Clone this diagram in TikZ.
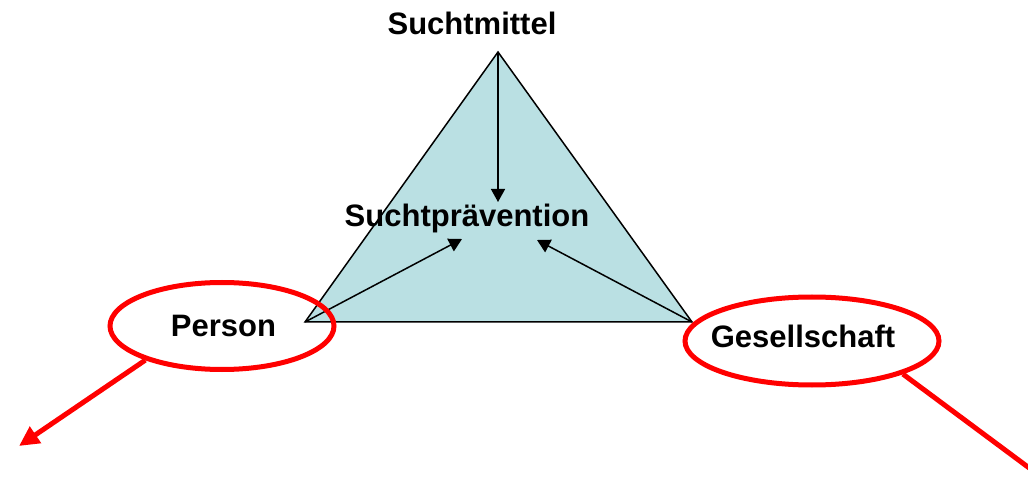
\documentclass[tikz,border=0pt]{standalone}
\usepackage{fontspec}
\setmainfont{Liberation Sans}
\usetikzlibrary{arrows.meta,shapes.geometric}
\definecolor{tealfill}{RGB}{186,224,227}
\tikzset{
  term/.style={font=\bfseries\fontsize{31}{36}\selectfont, inner sep=0pt, anchor=base},
  ring/.style={ellipse, draw=red, line width=5pt, inner sep=0pt},
  link/.style={-{Triangle[length=13pt, width=14pt]}, line width=1.5pt},
  pointer/.style={-{Triangle[length=20pt, width=19pt]}, draw=red, line width=5pt}
}

\begin{document}
\begin{tikzpicture}[x=1pt, y=-1pt]
\clip (0,0) rectangle (1028,478);
\fill[white] (0,0) rectangle (1028,478);

% corners of the triangle
\coordinate (top)   at (498,52);
\coordinate (left)  at (305,322);
\coordinate (right) at (692,322);
\draw[fill=tealfill, line width=1.5pt] (top) -- (left) -- (right) -- cycle;

\node (sm) [term] at (472,35) {Suchtmittel};
\node (sp) [term] at (467,227) {Suchtpr\"avention};

% arrow ends under and over the middle text
\coordinate (intop)   at (498,202);
\coordinate (inleft)  at (462,239);
\coordinate (inright) at (537,240);

\foreach \from/\to in {top/intop, left/inleft, right/inright}{
  \draw[link] (\from) -- (\to);
}

\node (pers) [term] at (223.5,337) {Person};
\node (ges)  [term] at (803,348) {Gesellschaft};

\node (persring) [ring, minimum width=224pt, minimum height=87pt] at (222,326) {};
\node (gesring)  [ring, minimum width=254pt, minimum height=88pt] at (812,341) {};

\coordinate (persout) at (19,446);
\coordinate (gesout)  at (1075,502);

\draw[pointer] (persring.204) -- (persout);
\draw[pointer] (gesring.-20) -- (gesout);

\end{tikzpicture}
\end{document}
